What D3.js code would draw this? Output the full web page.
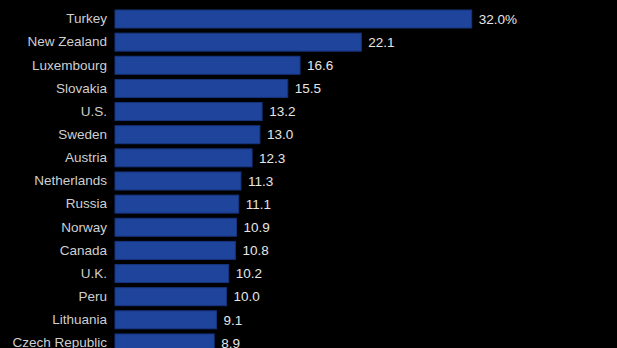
<!DOCTYPE html>
<html><head><meta charset="utf-8">
<script src="https://cdn.jsdelivr.net/npm/d3@7"></script>
<style>html,body{margin:0;padding:0;background:#000;overflow:hidden}</style>
</head><body>
<svg id="c" width="617" height="348"></svg>
<script>
const countries = ["Turkey","New Zealand","Luxembourg","Slovakia","U.S.","Sweden","Austria","Netherlands","Russia","Norway","Canada","U.K.","Peru","Lithuania","Czech Republic"];
const values = [32.0,22.1,16.6,15.5,13.2,13.0,12.3,11.3,11.1,10.9,10.8,10.2,10.0,9.1,8.9];
const valueLabels = ["32.0%","22.1","16.6","15.5","13.2","13.0","12.3","11.3","11.1","10.9","10.8","10.2","10.0","9.1","8.9"];

const svg = d3.select("#c");
svg.append("rect").attr("width",617).attr("height",348).attr("fill","#000");

const x = d3.scaleLinear().domain([0,32]).range([115,471.7]);
const step = 23.14;
const y = d3.scaleBand().domain(countries)
  .range([10, 10 + step*(countries.length - 0.222)])
  .paddingInner(0.222).paddingOuter(0);

const data = countries.map((c,i)=>({c, v:values[i], l:valueLabels[i]}));
const font = "'Liberation Sans', Arial, sans-serif";

svg.selectAll("rect.bar").data(data).join("rect")
  .attr("class","bar")
  .attr("x", x(0)).attr("y", d=>y(d.c))
  .attr("width", d=>x(d.v)-x(0)).attr("height", y.bandwidth())
  .attr("fill","#1f449c").attr("stroke","#16347e").attr("stroke-width",1);

const yAxis = d3.axisLeft(y).tickSize(0).tickPadding(8);
const g = svg.append("g").attr("transform",`translate(${x(0)},0)`).call(yAxis);
g.select(".domain").remove();
g.selectAll("text").attr("fill","#cfcfcf").style("font-family",font).style("font-size","13.5px");

svg.selectAll("text.val").data(data).join("text")
  .attr("class","val")
  .attr("x", d=>x(d.v)+7).attr("y", d=>y(d.c)+y.bandwidth()/2)
  .attr("dy","0.35em")
  .attr("fill","#e6e6e6").style("font-family",font).style("font-size","13.5px")
  .text(d=>d.l);
</script>
</body></html>
